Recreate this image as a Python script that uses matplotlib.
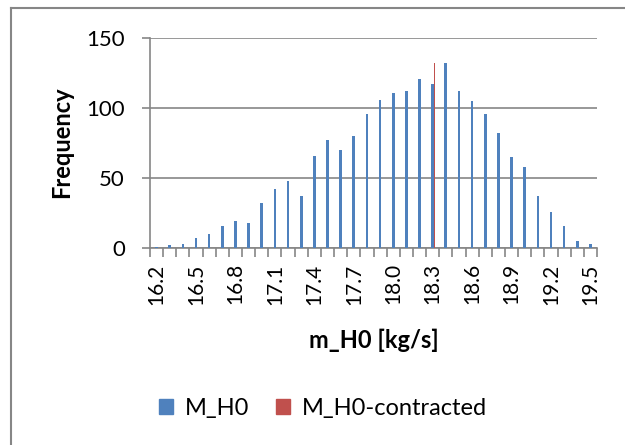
import numpy as np
import matplotlib
matplotlib.use("Agg")
import matplotlib.pyplot as plt
from matplotlib.lines import Line2D
from matplotlib.patches import Patch

plt.rcParams['font.family'] = ['Lato', 'DejaVu Sans']

# Bin centres (kg/s) and counts
bins = ['16.2', '16.3', '16.4', '16.5', '16.6', '16.7', '16.8', '16.9',
        '17.0', '17.1', '17.2', '17.3', '17.4', '17.5', '17.6', '17.7',
        '17.8', '17.9', '18.0', '18.1', '18.2', '18.3', '18.4', '18.5',
        '18.6', '18.7', '18.8', '18.9', '19.0', '19.1', '19.2', '19.3',
        '19.4', '19.5']
m_h0 = [1, 2, 3, 7, 10, 16, 19, 18, 32, 42, 48, 37, 66, 77, 70, 80,
        96, 106, 111, 112, 121, 117, 132, 112, 105, 96, 82, 65, 58, 37,
        26, 16, 5, 3]
contracted_bin = '18.3'
contracted_value = 132

blue = '#4F81BD'
red = '#C0504D'
grey = '#868686'

fig = plt.figure(figsize=(6.25, 4.45), dpi=100)
ax = fig.add_axes([150 / 625, 1 - 248 / 445, 447 / 625, 210 / 445])

x = np.arange(len(bins))
ax.bar(x, m_h0, width=0.2, color=blue, zorder=3)
ax.bar(bins.index(contracted_bin) + 0.15, contracted_value, width=0.12,
       color=red, zorder=3)

ax.set_xlim(-0.5, len(bins) - 0.5)
ax.set_ylim(0, 150)
ax.set_yticks([0, 50, 100, 150])
ax.yaxis.grid(True, color=grey, linewidth=1.2, zorder=0)

ax.set_xticks(x[::3])
ax.set_xticklabels(bins[::3], rotation=90)
ax.set_xticks(np.arange(len(bins) + 1) - 0.5, minor=True)
ax.tick_params(axis='x', which='major', length=0, pad=11, labelsize=15)
ax.tick_params(axis='x', which='minor', length=6.5, width=1.2, color=grey)
ax.tick_params(axis='y', length=6, width=1.2, color=grey, pad=12,
               labelsize=16)

for side in ['top', 'right']:
    ax.spines[side].set_visible(False)
for side in ['left', 'bottom']:
    ax.spines[side].set_color(grey)
    ax.spines[side].set_linewidth(1.2)

fig.text(62 / 625, 1 - 142 / 445, 'Frequency', rotation=90, fontsize=17,
         fontweight='bold', ha='center', va='center')
fig.text(374 / 625, 1 - 340 / 445, 'm_H0 [kg/s]', fontsize=17,
         fontweight='bold', ha='center', va='center')

handles = [Patch(color=blue, label='M_H0'),
           Patch(color=red, label='M_H0-contracted')]
fig.legend(handles=handles, loc='center', bbox_to_anchor=(323 / 625, 1 - 408 / 445),
           ncol=2, frameon=False, fontsize=17, handlelength=0.6,
           handleheight=0.6, handletextpad=0.5, columnspacing=1.1)

# chart border (only top and left edges are visible in the crop)
fig.add_artist(Line2D([11 / 625, 1], [1 - 8 / 445, 1 - 8 / 445],
                      transform=fig.transFigure, color=grey, linewidth=1.5))
fig.add_artist(Line2D([11 / 625, 11 / 625], [0, 1 - 8 / 445],
                      transform=fig.transFigure, color=grey, linewidth=1.5))

fig.savefig('out.png', dpi=100)
